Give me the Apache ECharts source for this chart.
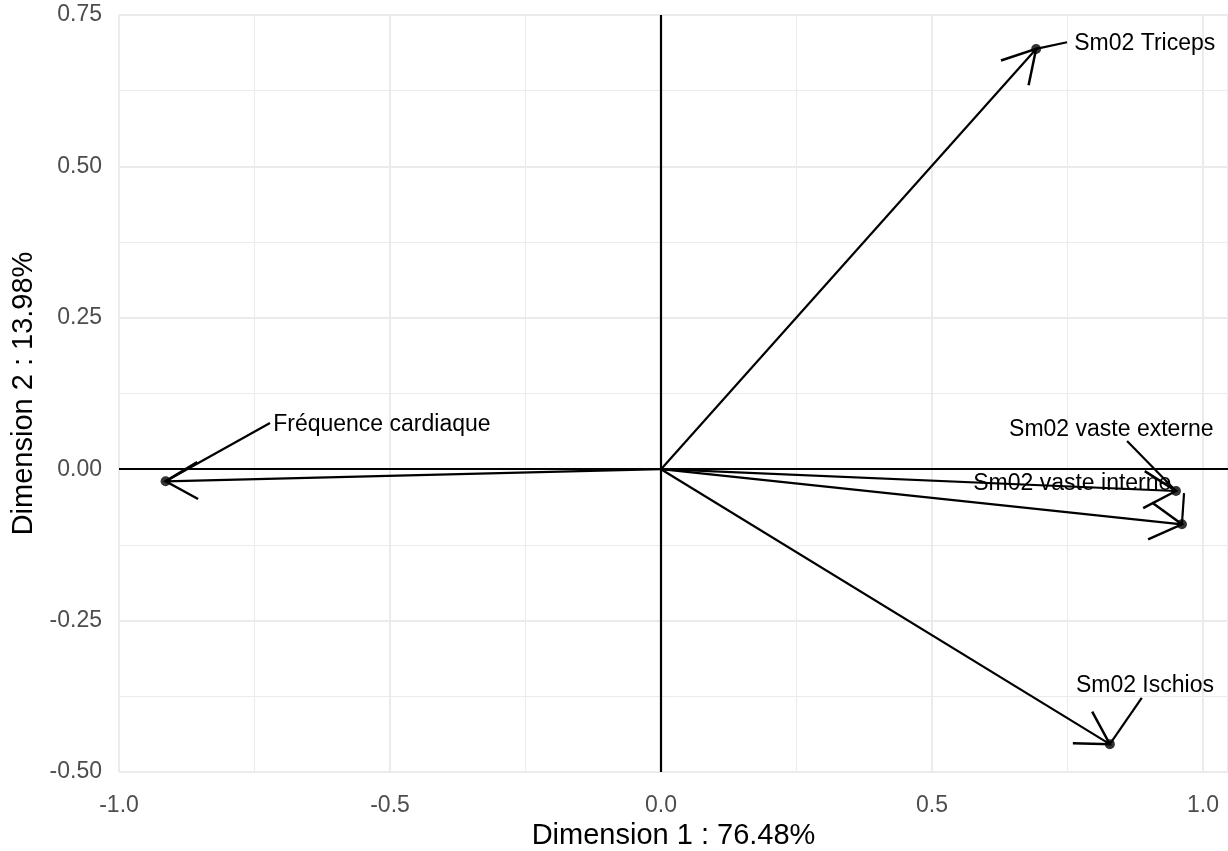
<!DOCTYPE html>
<html><head><meta charset="utf-8">
<script src="https://cdn.jsdelivr.net/npm/echarts@6/dist/echarts.min.js"></script>
<style>html,body{margin:0;padding:0;background:#fff}#chart{width:1228px;height:851px}</style>
</head><body><div id="chart"></div>
<script>
// ---- data ----
const variables = ['Fréquence cardiaque', 'Sm02 Triceps', 'Sm02 vaste externe', 'Sm02 vaste interne', 'Sm02 Ischios'];
const dim1 = [-0.914, 0.692, 0.950, 0.961, 0.828];
const dim2 = [-0.020, 0.694, -0.036, -0.091, -0.454];
const xTickValues = [-1.0, -0.5, 0.0, 0.5, 1.0];
const xTickLabels = ['-1.0', '-0.5', '0.0', '0.5', '1.0'];
const yTickValues = [-0.5, -0.25, 0.0, 0.25, 0.5, 0.75];
const yTickLabels = ['-0.50', '-0.25', '0.00', '0.25', '0.50', '0.75'];
const xTitle = 'Dimension 1 : 76.48%';
const yTitle = 'Dimension 2 : 13.98%';

// ---- layout (repelled label centres and leader-line ends, in data units) ----
const labelCentres = [[-0.515, 0.0743], [0.8924, 0.7027], [0.8308, 0.0655], [0.7587, -0.0236], [0.8927, -0.3566]];
const leaderEnds = [[-0.7214, 0.0764], [0.749, 0.705], [0.8598, 0.0467], [0.9649, -0.0396], [0.8869, -0.3775]];

const FONT = "'Liberation Sans', Arial, sans-serif";
const GRID = '#EBEBEB';
const X_MIN = -1.0, X_MAX = 1.046, Y_MIN = -0.5, Y_MAX = 0.75;

function lookup(vals, labels) {
  return function (v) {
    for (let i = 0; i < vals.length; i++) if (Math.abs(vals[i] - v) < 1e-6) return labels[i];
    return '';
  };
}

const chart = echarts.init(document.getElementById('chart'), null, { renderer: 'canvas' });

const arrowData = dim1.map((x, i) => [x, dim2[i]]);
const labelData = dim1.map((x, i) => ({
  name: variables[i],
  value: [x, dim2[i], leaderEnds[i][0], leaderEnds[i][1], labelCentres[i][0], labelCentres[i][1]]
}));

const LW = 2.2;

const option = {
  animation: false,
  backgroundColor: '#fff',
  grid: { left: 119, right: 0, top: 15, bottom: 79, containLabel: false, outerBoundsMode: 'none' },
  xAxis: [
    {
      type: 'value', min: X_MIN, max: X_MAX, interval: 0.5, position: 'bottom',
      name: xTitle, nameLocation: 'middle', nameGap: 46,
      nameTextStyle: { fontFamily: FONT, fontSize: 29, color: '#000' },
      axisLine: { show: false },
      axisTick: { show: true, length: 6, lineStyle: { color: GRID, width: 2 } },
      axisLabel: { show: true, margin: 22, fontFamily: FONT, fontSize: 23, color: '#4D4D4D',
        showMaxLabel: false, formatter: lookup(xTickValues, xTickLabels) },
      splitLine: { show: true, lineStyle: { color: GRID, width: 2 } }
    },
    {
      type: 'value', min: X_MIN, max: X_MAX, interval: 0.25, position: 'bottom',
      axisLine: { show: false },
      axisTick: { show: true, length: 6, lineStyle: { color: GRID, width: 1 } },
      axisLabel: { show: false },
      splitLine: { show: true, lineStyle: { color: GRID, width: 1 } }
    }
  ],
  yAxis: [
    {
      type: 'value', min: Y_MIN, max: Y_MAX, interval: 0.25, position: 'left',
      name: yTitle, nameLocation: 'middle', nameGap: 69, nameRotate: 90,
      nameTextStyle: { fontFamily: FONT, fontSize: 29, color: '#000' },
      axisLine: { show: false },
      axisTick: { show: true, length: 4, lineStyle: { color: GRID, width: 2 } },
      axisLabel: { show: true, margin: 17, fontFamily: FONT, fontSize: 23, color: '#4D4D4D',
        formatter: lookup(yTickValues, yTickLabels) },
      splitLine: { show: true, lineStyle: { color: GRID, width: 2 } }
    },
    {
      type: 'value', min: Y_MIN, max: Y_MAX, interval: 0.125, position: 'left',
      axisLine: { show: false },
      axisTick: { show: true, length: 4, lineStyle: { color: GRID, width: 1 } },
      axisLabel: { show: false },
      splitLine: { show: true, lineStyle: { color: GRID, width: 1 } }
    }
  ],
  series: [
    {
      // zero reference lines
      type: 'scatter', xAxisIndex: 0, yAxisIndex: 0, data: [], silent: true, z: 1,
      markLine: {
        silent: true, symbol: ['none', 'none'], animation: false,
        label: { show: false },
        lineStyle: { color: '#000', width: LW, type: 'solid' },
        data: [{ xAxis: 0 }, { yAxis: 0 }]
      }
    },
    {
      // arrows from origin
      type: 'custom', xAxisIndex: 0, yAxisIndex: 0, z: 3, clip: false, silent: true,
      data: arrowData,
      renderItem: function (params, api) {
        const o = api.coord([0, 0]);
        const t = api.coord([api.value(0), api.value(1)]);
        const ang = Math.atan2(o[1] - t[1], o[0] - t[0]);
        const L = 37, a = Math.PI / 6;
        const h1 = [t[0] + L * Math.cos(ang + a), t[1] + L * Math.sin(ang + a)];
        const h2 = [t[0] + L * Math.cos(ang - a), t[1] + L * Math.sin(ang - a)];
        return {
          type: 'group', children: [
            { type: 'line', shape: { x1: o[0], y1: o[1], x2: t[0], y2: t[1] }, style: { stroke: '#000', lineWidth: LW } },
            { type: 'polyline', shape: { points: [h1, t, h2] }, style: { stroke: '#000', lineWidth: LW + 0.3, fill: null } }
          ]
        };
      }
    },
    {
      type: 'scatter', xAxisIndex: 0, yAxisIndex: 0, z: 4, silent: true,
      symbol: 'circle', symbolSize: 10, itemStyle: { color: '#000' },
      data: arrowData
    },
    {
      // repelled labels and leader lines
      type: 'custom', xAxisIndex: 0, yAxisIndex: 0, z: 5, clip: false, silent: true,
      data: labelData,
      renderItem: function (params, api) {
        const p = api.coord([api.value(0), api.value(1)]);
        const e = api.coord([api.value(2), api.value(3)]);
        const c = api.coord([api.value(4), api.value(5)]);
        return {
          type: 'group', children: [
            { type: 'line', shape: { x1: p[0], y1: p[1], x2: e[0], y2: e[1] }, style: { stroke: '#000', lineWidth: LW } },
            { type: 'text', x: c[0], y: c[1], style: {
                text: variables[params.dataIndex], fill: '#000', font: '23px ' + FONT,
                align: 'center', verticalAlign: 'middle' } }
          ]
        };
      }
    }
  ]
};
chart.setOption(option);
</script>
</body></html>
